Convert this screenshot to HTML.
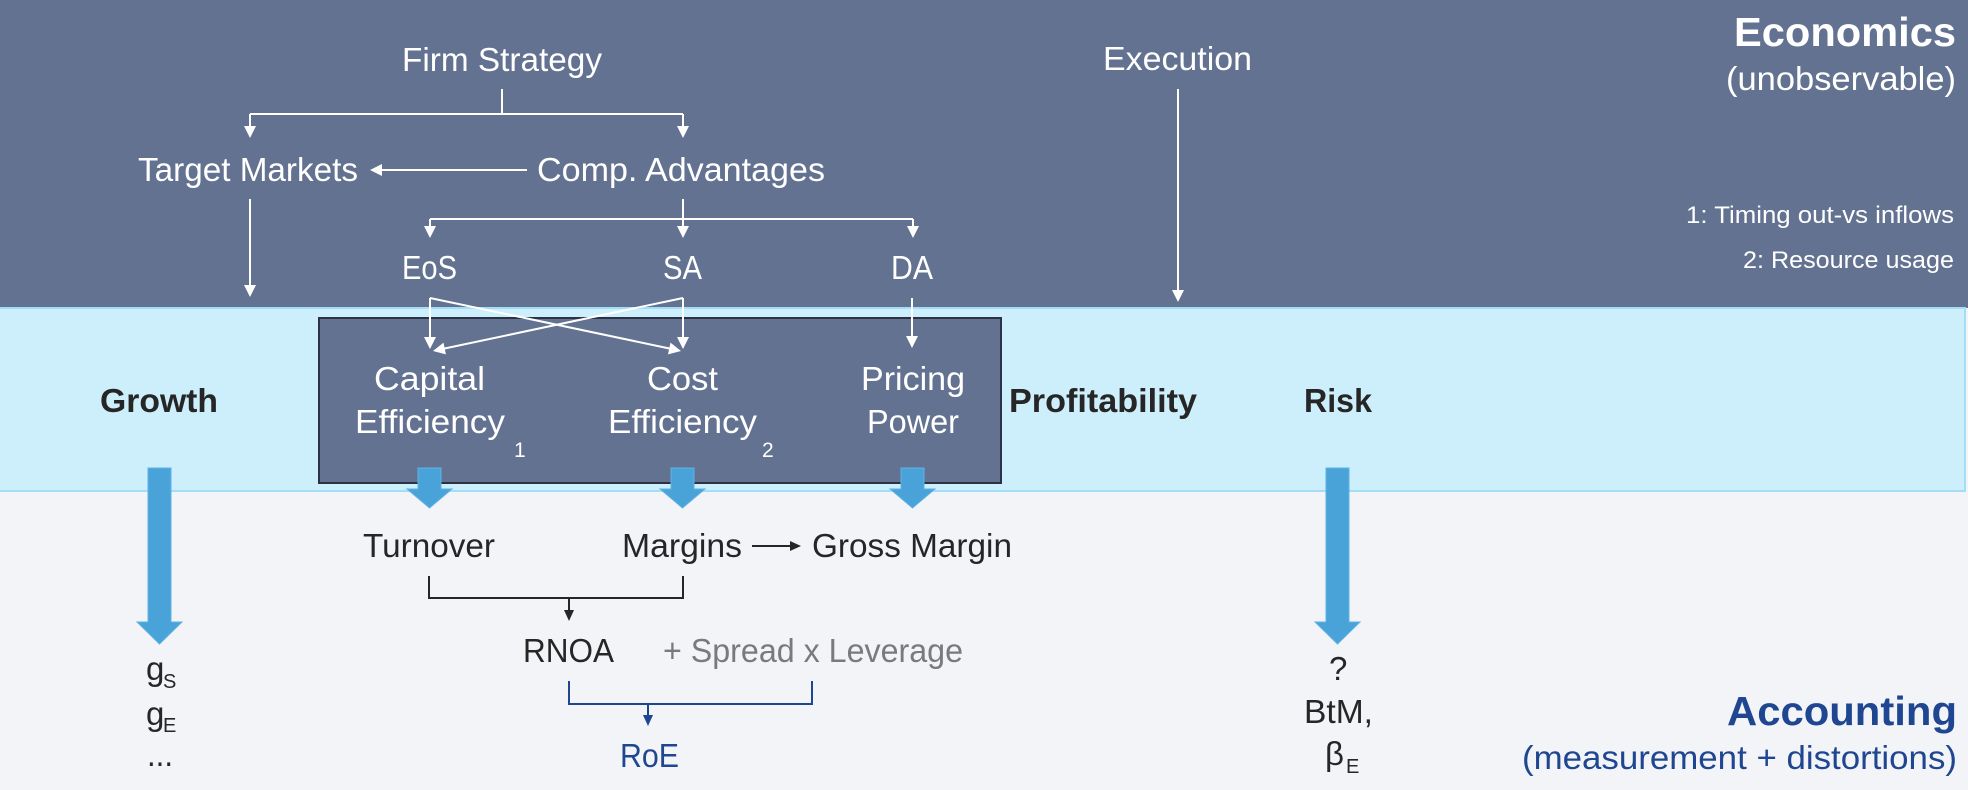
<!DOCTYPE html>
<html><head><meta charset="utf-8"><style>
html,body{margin:0;padding:0;background:#f2f4f8;}
svg{display:block;}
text{font-family:"Liberation Sans",sans-serif;}
</style></head><body>
<svg width="1968" height="790" viewBox="0 0 1968 790" xmlns="http://www.w3.org/2000/svg">
<!-- bands -->
<rect x="0" y="0" width="1968" height="790" fill="#f2f4f8"/>
<rect x="0" y="0" width="1968" height="308" fill="#637291"/>
<rect x="-2" y="308" width="1967" height="183" fill="#cdeefb" stroke="#a3ddf8" stroke-width="2"/>

<!-- central box -->
<rect x="319" y="318" width="682" height="165" fill="#637291" stroke="#2b3245" stroke-width="2"/>

<!-- white connectors -->
<g stroke="#ffffff" stroke-width="2" fill="none">
  <line x1="502" y1="89" x2="502" y2="114"/>
  <line x1="250" y1="114" x2="683" y2="114"/>
  <line x1="250" y1="114" x2="250" y2="128"/>
  <line x1="683" y1="114" x2="683" y2="128"/>
  <line x1="527" y1="170" x2="380" y2="170"/>
  <line x1="250" y1="199" x2="250" y2="288"/>
  <line x1="683" y1="199" x2="683" y2="219"/>
  <line x1="430" y1="219" x2="913" y2="219"/>
  <line x1="430" y1="219" x2="430" y2="228"/>
  <line x1="683" y1="219" x2="683" y2="228"/>
  <line x1="913" y1="219" x2="913" y2="228"/>
  <line x1="1178" y1="89" x2="1178" y2="292"/>
  <line x1="430" y1="298" x2="430" y2="339"/>
  <line x1="683" y1="298" x2="683" y2="339"/>
  <line x1="430" y1="298" x2="670" y2="348.6"/>
  <line x1="683" y1="298" x2="444" y2="348.6"/>
  <line x1="912" y1="298" x2="912" y2="338"/>
</g>
<g fill="#ffffff">
  <polygon points="244,126 256,126 250,138"/>
  <polygon points="677,126 689,126 683,138"/>
  <polygon points="370,170 382,164 382,176"/>
  <polygon points="244,285 256,285 250,297"/>
  <polygon points="424,226 436,226 430,238"/>
  <polygon points="677,226 689,226 683,238"/>
  <polygon points="907,226 919,226 913,238"/>
  <polygon points="1172,290 1184,290 1178,302"/>
  <polygon points="424,337 436,337 430,349"/>
  <polygon points="677,337 689,337 683,349"/>
  <polygon points="681,351 668,354.4 670.5,342.6"/>
  <polygon points="433,351 443.5,342.6 445.9,354.4"/>
  <polygon points="906,336 918,336 912,348"/>
</g>

<!-- blue block arrows -->
<g fill="#4aa3d8" stroke="#5db3e3" stroke-width="1">
  <polygon points="148,468 171,468 171,622 182,622 159.5,644 137,622 148,622"/>
  <polygon points="1326,468 1349,468 1349,622 1360,622 1337.5,644 1315,622 1326,622"/>
  <polygon points="418,468 441,468 441,489 452,489 429.5,508 407,489 418,489"/>
  <polygon points="671,468 694,468 694,489 705,489 682.5,508 660,489 671,489"/>
  <polygon points="901,468 924,468 924,489 935,489 912.5,508 890,489 901,489"/>
</g>

<!-- dark connectors -->
<g stroke="#262626" stroke-width="2" fill="none">
  <line x1="752" y1="546" x2="792" y2="546"/>
  <polyline points="429,576 429,598 683,598 683,576"/>
  <line x1="569" y1="598" x2="569" y2="612"/>
</g>
<g fill="#262626">
  <polygon points="801,546 790,541 790,551"/>
  <polygon points="564,610 574,610 569,621"/>
</g>
<g stroke="#1f4690" stroke-width="2" fill="none">
  <polyline points="569,681 569,704 812,704 812,681"/>
  <line x1="648" y1="704" x2="648" y2="717"/>
</g>
<polygon points="643,715 653,715 648,726" fill="#1f4690"/>

<!-- white texts -->
<g fill="#ffffff" font-size="33">
  <text x="402" y="71" textLength="200" lengthAdjust="spacingAndGlyphs">Firm Strategy</text>
  <text x="1103" y="70" textLength="149" lengthAdjust="spacingAndGlyphs">Execution</text>
  <text x="138" y="181" textLength="220" lengthAdjust="spacingAndGlyphs">Target Markets</text>
  <text x="537" y="181" textLength="288" lengthAdjust="spacingAndGlyphs">Comp. Advantages</text>
  <text x="402" y="279" textLength="55" lengthAdjust="spacingAndGlyphs">EoS</text>
  <text x="663" y="279" textLength="39" lengthAdjust="spacingAndGlyphs">SA</text>
  <text x="891" y="279" textLength="42" lengthAdjust="spacingAndGlyphs">DA</text>
  <text x="374" y="390" textLength="111" lengthAdjust="spacingAndGlyphs">Capital</text>
  <text x="355" y="433" textLength="150" lengthAdjust="spacingAndGlyphs">Efficiency</text>
  <text x="647" y="390" textLength="71" lengthAdjust="spacingAndGlyphs">Cost</text>
  <text x="608" y="433" textLength="149" lengthAdjust="spacingAndGlyphs">Efficiency</text>
  <text x="861" y="390" textLength="104" lengthAdjust="spacingAndGlyphs">Pricing</text>
  <text x="867" y="433" textLength="92" lengthAdjust="spacingAndGlyphs">Power</text>
  <text x="514" y="457" font-size="21">1</text>
  <text x="762" y="457" font-size="21">2</text>
  <text x="1726" y="90" textLength="230" lengthAdjust="spacingAndGlyphs">(unobservable)</text>
  <text x="1686" y="223" font-size="24" textLength="268" lengthAdjust="spacingAndGlyphs">1: Timing out-vs inflows</text>
  <text x="1743" y="268" font-size="24" textLength="211" lengthAdjust="spacingAndGlyphs">2: Resource usage</text>
  <text x="1734" y="46" font-size="41" font-weight="bold" textLength="222" lengthAdjust="spacingAndGlyphs">Economics</text>
</g>

<!-- dark texts -->
<g fill="#262626" font-size="33">
  <text x="100" y="412" font-weight="bold" textLength="118" lengthAdjust="spacingAndGlyphs">Growth</text>
  <text x="1009" y="412" font-weight="bold" textLength="188" lengthAdjust="spacingAndGlyphs">Profitability</text>
  <text x="1304" y="412" font-weight="bold" textLength="68" lengthAdjust="spacingAndGlyphs">Risk</text>
  <text x="363" y="557" textLength="132" lengthAdjust="spacingAndGlyphs">Turnover</text>
  <text x="622" y="557" textLength="120" lengthAdjust="spacingAndGlyphs">Margins</text>
  <text x="812" y="557" textLength="200" lengthAdjust="spacingAndGlyphs">Gross Margin</text>
  <text x="523" y="662" textLength="91" lengthAdjust="spacingAndGlyphs">RNOA</text>
  <text x="663" y="662" fill="#7a7a7a" textLength="300" lengthAdjust="spacingAndGlyphs">+ Spread x Leverage</text>
  <text x="146" y="680">g</text>
  <text x="163" y="688" font-size="20">S</text>
  <text x="146" y="725">g</text>
  <text x="163" y="732" font-size="20">E</text>
  <text x="147" y="766" textLength="26" lengthAdjust="spacingAndGlyphs">...</text>
  <text x="1329" y="680">?</text>
  <text x="1304" y="723" textLength="69" lengthAdjust="spacingAndGlyphs">BtM,</text>
  <text x="1325" y="765">β</text>
  <text x="1346" y="773" font-size="20">E</text>
</g>

<!-- blue texts -->
<g fill="#1f4690">
  <text x="620" y="767" font-size="33" textLength="59" lengthAdjust="spacingAndGlyphs">RoE</text>
  <text x="1727" y="725" font-size="41" font-weight="bold" textLength="230" lengthAdjust="spacingAndGlyphs">Accounting</text>
  <text x="1522" y="769" font-size="33" textLength="435" lengthAdjust="spacingAndGlyphs">(measurement + distortions)</text>
</g>
</svg>
</body></html>
